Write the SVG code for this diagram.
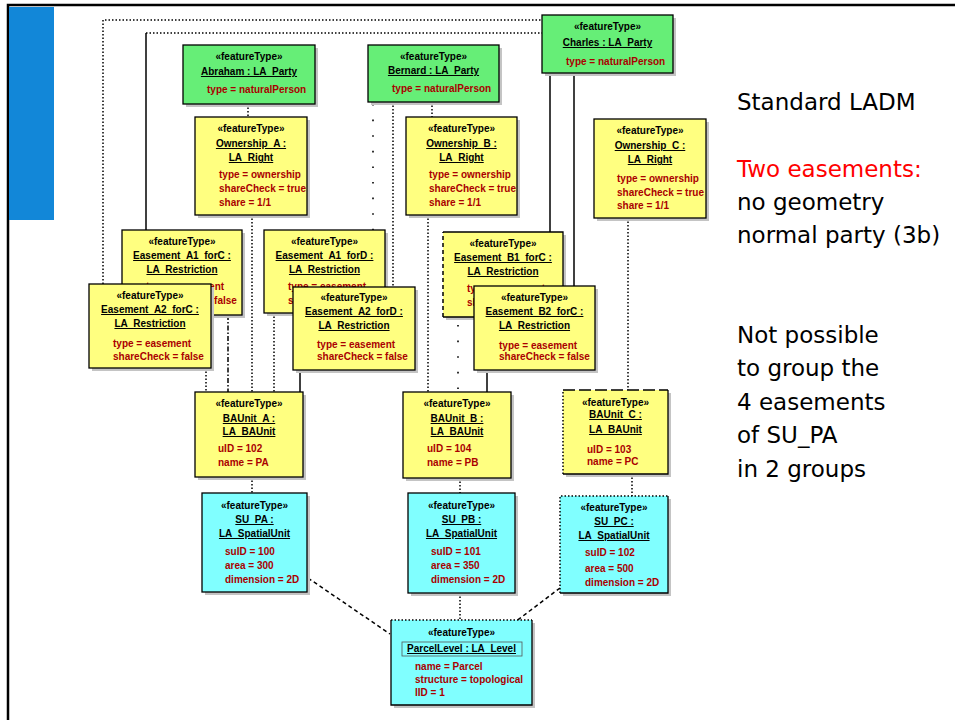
<svg xmlns="http://www.w3.org/2000/svg" width="955" height="720" viewBox="0 0 955 720">
  <defs>
    <style>
      .frame { stroke:#000; stroke-width:2.5; fill:none }
      .shadow { fill:#c4c4c4 }
      .box { stroke:#000; stroke-width:1.3 }
      .nofill { fill:none; stroke:#000; stroke-width:1.3 }
      .green { fill:#66ee77 }
      .yellow { fill:#ffff80 }
      .cyan { fill:#80ffff }
      .t { font-family:"Liberation Sans", Arial, sans-serif; font-size:10px; font-weight:bold; fill:#000; text-anchor:middle }
      .u { text-decoration:underline }
      .a { font-family:"Liberation Sans", Arial, sans-serif; font-size:10px; font-weight:bold; fill:#aa0000 }
      .note { font-family:"DejaVu Sans", Verdana, sans-serif; font-size:23px; fill:#000 }
      .red { fill:#ff0000 }
      .solid { stroke:#000; stroke-width:1.5; fill:none }
      .dot { stroke:#000; stroke-width:1.5; fill:none; stroke-dasharray:1.5 2 }
      .sparse { stroke:#000; stroke-width:1.6; fill:none; stroke-dasharray:1.6 14 }
      .dashdot { stroke:#000; stroke-width:1.5; fill:none; stroke-dasharray:5 2 1.5 2 }
      .dash { stroke:#000; stroke-width:1.5; fill:none; stroke-dasharray:4 3 }
      .longdash { stroke:#000; stroke-width:1.5; fill:none; stroke-dasharray:12 4 }
    </style>
  </defs>

  <rect width="955" height="720" fill="#fff"/>

  <!-- slide frame and side bar -->
  <path class="frame" d="M8,720 V5 H955"/>
  <rect x="9" y="7" width="45" height="213" fill="#1287d8"/>

  <!-- side notes -->
  <g id="notes">
    <text class="note" x="737" y="110">Standard LADM</text>
    <text class="note red" x="737" y="177">Two easements:</text>
    <text class="note" x="737" y="210">no geometry</text>
    <text class="note" x="737" y="243">normal party (3b)</text>
    <text class="note" x="737" y="343">Not possible</text>
    <text class="note" x="737" y="376">to group the</text>
    <text class="note" x="737" y="410">4 easements</text>
    <text class="note" x="737" y="443">of SU_PA</text>
    <text class="note" x="737" y="477">in 2 groups</text>
  </g>

  <!-- associations -->
  <g id="connectors">
    <path class="dot" d="M103,284 V20 H542"/>
    <path class="dot" d="M146,33 H542"/>
    <path class="solid" d="M146,33 V230"/>
    <path class="solid" d="M550,73 V232"/>
    <path class="solid" d="M574,73 V286"/>
    <path class="dot" d="M248,104 V117"/>
    <path class="dot" d="M252,215 V392"/>
    <path class="dot" d="M432,102 V117"/>
    <path class="dot" d="M428,215 V392"/>
    <path class="sparse" d="M373,104 V230"/>
    <path class="dot" d="M393,102 V287"/>
    <path class="dot" d="M628,218 V390"/>
    <path class="dot" d="M206,368 V392"/>
    <path class="dashdot" d="M228,315 V392"/>
    <path class="dot" d="M274,313 V392"/>
    <path class="solid" d="M300,370 V392"/>
    <path class="sparse" d="M458,325 V392"/>
    <path class="solid" d="M487,370 V392"/>
    <path class="dot" d="M252,477 V493"/>
    <path class="dot" d="M460,478 V493"/>
    <path class="dot" d="M632,474 V496"/>
    <path class="dash" d="M308,578 L390,634"/>
    <path class="dot" d="M460,593 V620"/>
    <path class="dash" d="M560,588 L515,622"/>
  </g>

  <!-- parties -->
  <g id="abraham">
    <rect class="shadow" x="186" y="48" width="132" height="59"/>
    <rect class="box green" x="183" y="45" width="132" height="59"/>
    <text class="t" x="249" y="60">«featureType»</text>
    <text class="t u" x="249" y="75">Abraham : LA_Party</text>
    <text class="a" x="207" y="93">type = naturalPerson</text>
  </g>
  <g id="bernard">
    <rect class="shadow" x="371" y="48" width="131" height="57"/>
    <rect class="box green" x="368" y="45" width="131" height="57"/>
    <text class="t" x="433.5" y="60">«featureType»</text>
    <text class="t u" x="433.5" y="74">Bernard : LA_Party</text>
    <text class="a" x="392" y="92">type = naturalPerson</text>
  </g>
  <g id="charles">
    <rect class="shadow" x="545" y="18" width="131" height="58"/>
    <rect class="box green" x="542" y="15" width="131" height="58"/>
    <text class="t" x="607.5" y="30">«featureType»</text>
    <text class="t u" x="607.5" y="46">Charles : LA_Party</text>
    <text class="a" x="566" y="65">type = naturalPerson</text>
  </g>

  <!-- rights -->
  <g id="ownership-a">
    <rect class="shadow" x="198" y="120" width="112" height="98"/>
    <rect class="box yellow" x="195" y="117" width="112" height="98"/>
    <text class="t" x="251" y="132">«featureType»</text>
    <text class="t u" x="251" y="147">Ownership_A :</text>
    <text class="t u" x="251" y="161">LA_Right</text>
    <text class="a" x="219" y="178">type = ownership</text>
    <text class="a" x="219" y="192">shareCheck = true</text>
    <text class="a" x="219" y="206">share = 1/1</text>
  </g>
  <g id="ownership-b">
    <rect class="shadow" x="409" y="120" width="111" height="98"/>
    <rect class="box yellow" x="406" y="117" width="111" height="98"/>
    <text class="t" x="461.5" y="132">«featureType»</text>
    <text class="t u" x="461.5" y="147">Ownership_B :</text>
    <text class="t u" x="461.5" y="161">LA_Right</text>
    <text class="a" x="429" y="178">type = ownership</text>
    <text class="a" x="429" y="192">shareCheck = true</text>
    <text class="a" x="429" y="206">share = 1/1</text>
  </g>
  <g id="ownership-c">
    <rect class="shadow" x="597" y="122" width="112" height="99"/>
    <rect class="box yellow" x="594" y="119" width="112" height="99"/>
    <text class="t" x="650" y="134">«featureType»</text>
    <text class="t u" x="650" y="149">Ownership_C :</text>
    <text class="t u" x="650" y="163">LA_Right</text>
    <text class="a" x="617" y="182">type = ownership</text>
    <text class="a" x="617" y="196">shareCheck = true</text>
    <text class="a" x="617" y="209">share = 1/1</text>
  </g>

  <!-- restrictions -->
  <g id="easement-a1-forc">
    <rect class="shadow" x="125" y="233" width="120" height="85"/>
    <rect class="box yellow" x="122" y="230" width="120" height="85"/>
    <text class="t" x="182" y="245">«featureType»</text>
    <text class="t u" x="182" y="259">Easement_A1_forC :</text>
    <text class="t u" x="182" y="273">LA_Restriction</text>
    <text class="a" x="146" y="290">type = easement</text>
    <text class="a" x="146" y="304">shareCheck = false</text>
  </g>
  <g id="easement-a2-forc">
    <rect class="shadow" x="92" y="287" width="122" height="84"/>
    <rect class="box yellow" x="89" y="284" width="122" height="84"/>
    <text class="t" x="150" y="299">«featureType»</text>
    <text class="t u" x="150" y="313">Easement_A2_forC :</text>
    <text class="t u" x="150" y="327">LA_Restriction</text>
    <text class="a" x="113" y="347">type = easement</text>
    <text class="a" x="113" y="360">shareCheck = false</text>
  </g>
  <g id="easement-a1-ford">
    <rect class="shadow" x="267" y="233" width="121" height="83"/>
    <rect class="box yellow" x="264" y="230" width="121" height="83"/>
    <text class="t" x="324.5" y="245">«featureType»</text>
    <text class="t u" x="324.5" y="259">Easement_A1_forD :</text>
    <text class="t u" x="324.5" y="273">LA_Restriction</text>
    <text class="a" x="288" y="290">type = easement</text>
    <text class="a" x="288" y="304">shareCheck = false</text>
  </g>
  <g id="easement-a2-ford">
    <rect class="shadow" x="296" y="290" width="122" height="83"/>
    <rect class="box yellow" x="293" y="287" width="122" height="83"/>
    <text class="t" x="354" y="301">«featureType»</text>
    <text class="t u" x="354" y="315">Easement_A2_forD :</text>
    <text class="t u" x="354" y="329">LA_Restriction</text>
    <text class="a" x="317" y="348">type = easement</text>
    <text class="a" x="317" y="360">shareCheck = false</text>
  </g>
  <g id="easement-b1-forc">
    <rect class="shadow" x="446" y="235" width="120" height="85"/>
    <rect class="yellow" x="443" y="232" width="120" height="85"/>
    <path class="nofill" d="M443,232 H563 V317 H443"/>
    <path class="dash" d="M443,317 V232"/>
    <text class="t" x="503" y="247">«featureType»</text>
    <text class="t u" x="503" y="261">Easement_B1_forC :</text>
    <text class="t u" x="503" y="275">LA_Restriction</text>
    <text class="a" x="467" y="292">type = easement</text>
    <text class="a" x="467" y="306">shareCheck = false</text>
  </g>
  <g id="easement-b2-forc">
    <rect class="shadow" x="477" y="289" width="121" height="84"/>
    <rect class="box yellow" x="474" y="286" width="121" height="84"/>
    <text class="t" x="534.5" y="301">«featureType»</text>
    <text class="t u" x="534.5" y="315">Easement_B2_forC :</text>
    <text class="t u" x="534.5" y="329">LA_Restriction</text>
    <text class="a" x="499" y="349">type = easement</text>
    <text class="a" x="499" y="360">shareCheck = false</text>
  </g>

  <!-- basic administrative units -->
  <g id="baunit-a">
    <rect class="shadow" x="198" y="395" width="108" height="85"/>
    <rect class="box yellow" x="195" y="392" width="108" height="85"/>
    <text class="t" x="249" y="407">«featureType»</text>
    <text class="t u" x="249" y="422">BAUnit_A :</text>
    <text class="t u" x="249" y="435">LA_BAUnit</text>
    <text class="a" x="218" y="452">uID = 102</text>
    <text class="a" x="218" y="466">name = PA</text>
  </g>
  <g id="baunit-b">
    <rect class="shadow" x="406" y="395" width="108" height="86"/>
    <rect class="box yellow" x="403" y="392" width="108" height="86"/>
    <text class="t" x="457" y="407">«featureType»</text>
    <text class="t u" x="457" y="422">BAUnit_B :</text>
    <text class="t u" x="457" y="435">LA_BAUnit</text>
    <text class="a" x="427" y="452">uID = 104</text>
    <text class="a" x="427" y="466">name = PB</text>
  </g>
  <g id="baunit-c">
    <rect class="shadow" x="566" y="393" width="105" height="84"/>
    <rect class="yellow" x="563" y="390" width="105" height="84"/>
    <path class="nofill" d="M668,390 V474 H563"/>
    <path class="longdash" d="M563,390 H668"/>
    <path class="dot" d="M563,474 V390"/>
    <text class="t" x="615.5" y="406">«featureType»</text>
    <text class="t u" x="615.5" y="418">BAUnit_C :</text>
    <text class="t u" x="615.5" y="433">LA_BAUnit</text>
    <text class="a" x="587" y="453">uID = 103</text>
    <text class="a" x="587" y="465">name = PC</text>
  </g>

  <!-- spatial units -->
  <g id="su-pa">
    <rect class="shadow" x="205" y="496" width="105" height="99"/>
    <rect class="box cyan" x="202" y="493" width="105" height="99"/>
    <text class="t" x="254.5" y="509">«featureType»</text>
    <text class="t u" x="254.5" y="523">SU_PA :</text>
    <text class="t u" x="254.5" y="537">LA_SpatialUnit</text>
    <text class="a" x="225" y="555">suID = 100</text>
    <text class="a" x="225" y="569">area = 300</text>
    <text class="a" x="225" y="583">dimension = 2D</text>
  </g>
  <g id="su-pb">
    <rect class="shadow" x="411" y="496" width="107" height="100"/>
    <rect class="box cyan" x="408" y="493" width="107" height="100"/>
    <text class="t" x="461.5" y="509">«featureType»</text>
    <text class="t u" x="461.5" y="523">SU_PB :</text>
    <text class="t u" x="461.5" y="537">LA_SpatialUnit</text>
    <text class="a" x="431" y="555">suID = 101</text>
    <text class="a" x="431" y="569">area = 350</text>
    <text class="a" x="431" y="583">dimension = 2D</text>
  </g>
  <g id="su-pc">
    <rect class="shadow" x="563" y="499" width="108" height="97"/>
    <rect class="cyan" x="560" y="496" width="108" height="97"/>
    <path class="nofill" d="M668,496 V593 H560"/>
    <path class="dot" d="M560,593 V496 H668"/>
    <text class="t" x="614" y="511">«featureType»</text>
    <text class="t u" x="614" y="525">SU_PC :</text>
    <text class="t u" x="614" y="539">LA_SpatialUnit</text>
    <text class="a" x="585" y="556">suID = 102</text>
    <text class="a" x="585" y="572">area = 500</text>
    <text class="a" x="585" y="586">dimension = 2D</text>
  </g>

  <!-- level -->
  <g id="parcel-level">
    <rect class="shadow" x="394" y="623" width="141" height="85"/>
    <rect class="cyan" x="391" y="620" width="141" height="85"/>
    <path class="nofill" d="M391,620 V705 H532 V620"/>
    <path class="dot" d="M391,620 H532"/>
    <text class="t" x="461.5" y="636">«featureType»</text>
    <rect x="402" y="642" width="120" height="14" fill="none" stroke="#555" stroke-width="0.8"/>
    <text class="t u" x="461.5" y="652">ParcelLevel : LA_Level</text>
    <text class="a" x="415" y="670">name = Parcel</text>
    <text class="a" x="415" y="683">structure = topological</text>
    <text class="a" x="415" y="696">lID = 1</text>
  </g>
</svg>
